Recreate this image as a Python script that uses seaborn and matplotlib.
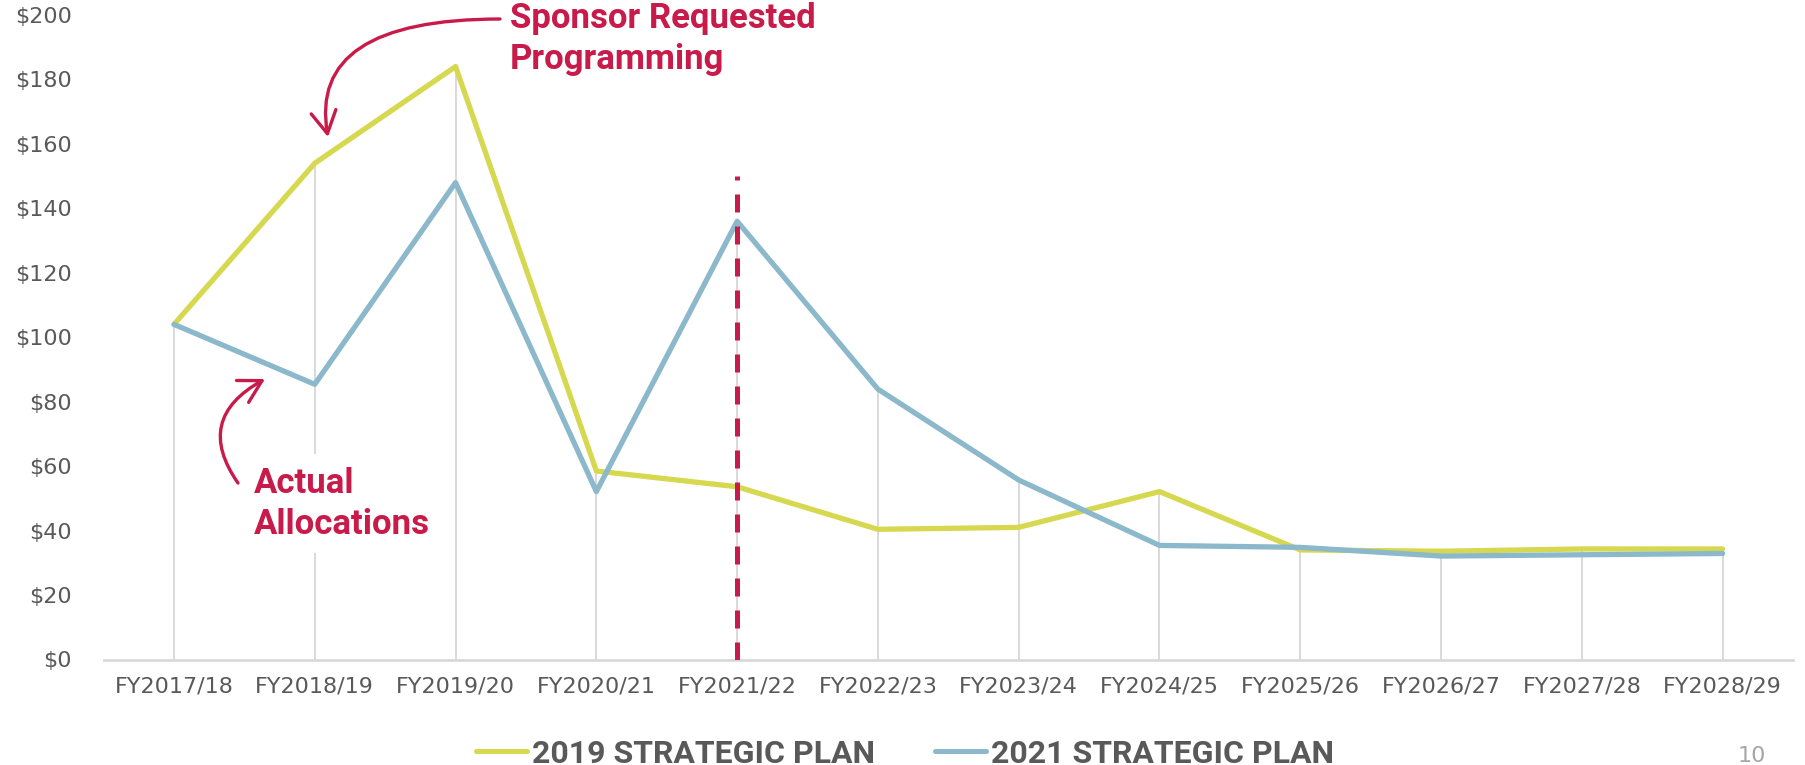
import numpy as np
import pandas as pd
import matplotlib
matplotlib.use("Agg")
import matplotlib.pyplot as plt
import seaborn as sns
from matplotlib.lines import Line2D

years = ["FY2017/18", "FY2018/19", "FY2019/20", "FY2020/21", "FY2021/22", "FY2022/23",
         "FY2023/24", "FY2024/25", "FY2025/26", "FY2026/27", "FY2027/28", "FY2028/29"]
plan_2019 = [104, 154, 184, 58.5, 53.6, 40.4, 41, 52.1, 34, 33.6, 34.3, 34.3]
plan_2021 = [104, 85.4, 148, 52.1, 136, 83.9, 55.7, 35.4, 34.8, 32.1, 32.5, 32.9]
series_names = ["2019 STRATEGIC PLAN", "2021 STRATEGIC PLAN"]
y_ticks = [0, 20, 40, 60, 80, 100, 120, 140, 160, 180, 200]
divider_year = "FY2021/22"
divider_top = 150

YELLOW = "#D6D84F"
BLUE = "#8BB8CB"
CRIMSON = "#C81B4A"
GRID = "#D9D9D9"
TXT = "#595959"

sns.set_style("white")
plt.rcParams["font.family"] = ["DejaVu Sans"]

df = pd.DataFrame({
    "year": years * 2,
    "value": plan_2019 + plan_2021,
    "plan": [series_names[0]] * len(years) + [series_names[1]] * len(years),
})

W, H = 1805, 765
fig = plt.figure(figsize=(W / 100, H / 100), dpi=100)
ax = fig.add_axes([103.6 / W, 1 - 659.5 / H, (1793 - 103.6) / W, (659.5 - 15) / H])

sns.lineplot(data=df, x="year", y="value", hue="plan",
             palette={series_names[0]: YELLOW, series_names[1]: BLUE},
             linewidth=3.8, ax=ax, sort=False, legend=False, zorder=3)
for ln in ax.lines:
    ln.set_solid_joinstyle("round")
    ln.set_solid_capstyle("round")

xpos = np.arange(len(years))
ax.vlines(xpos, 0, np.maximum(plan_2019, plan_2021), color=GRID, lw=1.4, zorder=1)

xi = years.index(divider_year)
ax.vlines([xi], 0, divider_top, color=CRIMSON, lw=3.6, linestyles=(0, (3.6, 2.8)), zorder=5)

ax.set_xlim(-0.5, len(years) - 0.5)
ax.set_ylim(0, 200)
ax.set_yticks(y_ticks)
ax.set_yticklabels([f"${v}" for v in y_ticks])
ax.set_xlabel("")
ax.set_ylabel("")
for s in ["left", "right", "top"]:
    ax.spines[s].set_visible(False)
ax.spines["bottom"].set_color(GRID)
ax.spines["bottom"].set_linewidth(2)
ax.tick_params(axis="y", length=0, pad=23, labelsize=16, labelcolor=TXT)
ax.tick_params(axis="x", length=0, pad=12, labelsize=16, labelcolor=TXT)
ax.grid(False)

# legend
handles = [Line2D([], [], color=YELLOW, lw=3.6), Line2D([], [], color=BLUE, lw=3.6)]
leg = fig.legend(handles, series_names, loc="center", bbox_to_anchor=(905 / W, 0.015),
                 ncol=2, frameon=False, handlelength=1.6, handletextpad=0.15,
                 columnspacing=1.9, borderaxespad=0,
                 prop={"family": ["Roboto", "DejaVu Sans"], "weight": "bold", "size": 23})
for t in leg.get_texts():
    t.set_color(TXT)

# annotations
afont = {"family": ["Roboto", "DejaVu Sans"], "weight": "bold", "size": 25}
fig.text(510 / W, 763 / H, "Sponsor Requested\nProgramming", color=CRIMSON, va="top", ha="left",
         linespacing=1.3, fontdict=afont)
fig.text(254 / W, 298 / H, "Actual\nAllocations", color=CRIMSON, va="top", ha="left",
         linespacing=1.3, fontdict=afont, zorder=10,
         bbox=dict(facecolor="white", edgecolor="none", pad=9))

ap = dict(arrowstyle="->,head_length=0.8,head_width=0.45", color=CRIMSON, lw=2.4,
          mutation_scale=20, shrinkA=0, shrinkB=0)
ax.annotate("", xy=(328, 628), xycoords="figure pixels", xytext=(500, 746), textcoords="figure pixels",
            arrowprops=dict(ap, connectionstyle="angle3,angleA=0,angleB=100"), annotation_clip=False)
ax.annotate("", xy=(265, 386), xycoords="figure pixels", xytext=(238, 282), textcoords="figure pixels",
            arrowprops=dict(ap, connectionstyle="angle3,angleA=125,angleB=29"), annotation_clip=False)

fig.text(1738 / W, 3 / H, "10", color="#A6A6A6", fontsize=16, va="baseline", ha="left")

fig.savefig("out.png", dpi=100)
